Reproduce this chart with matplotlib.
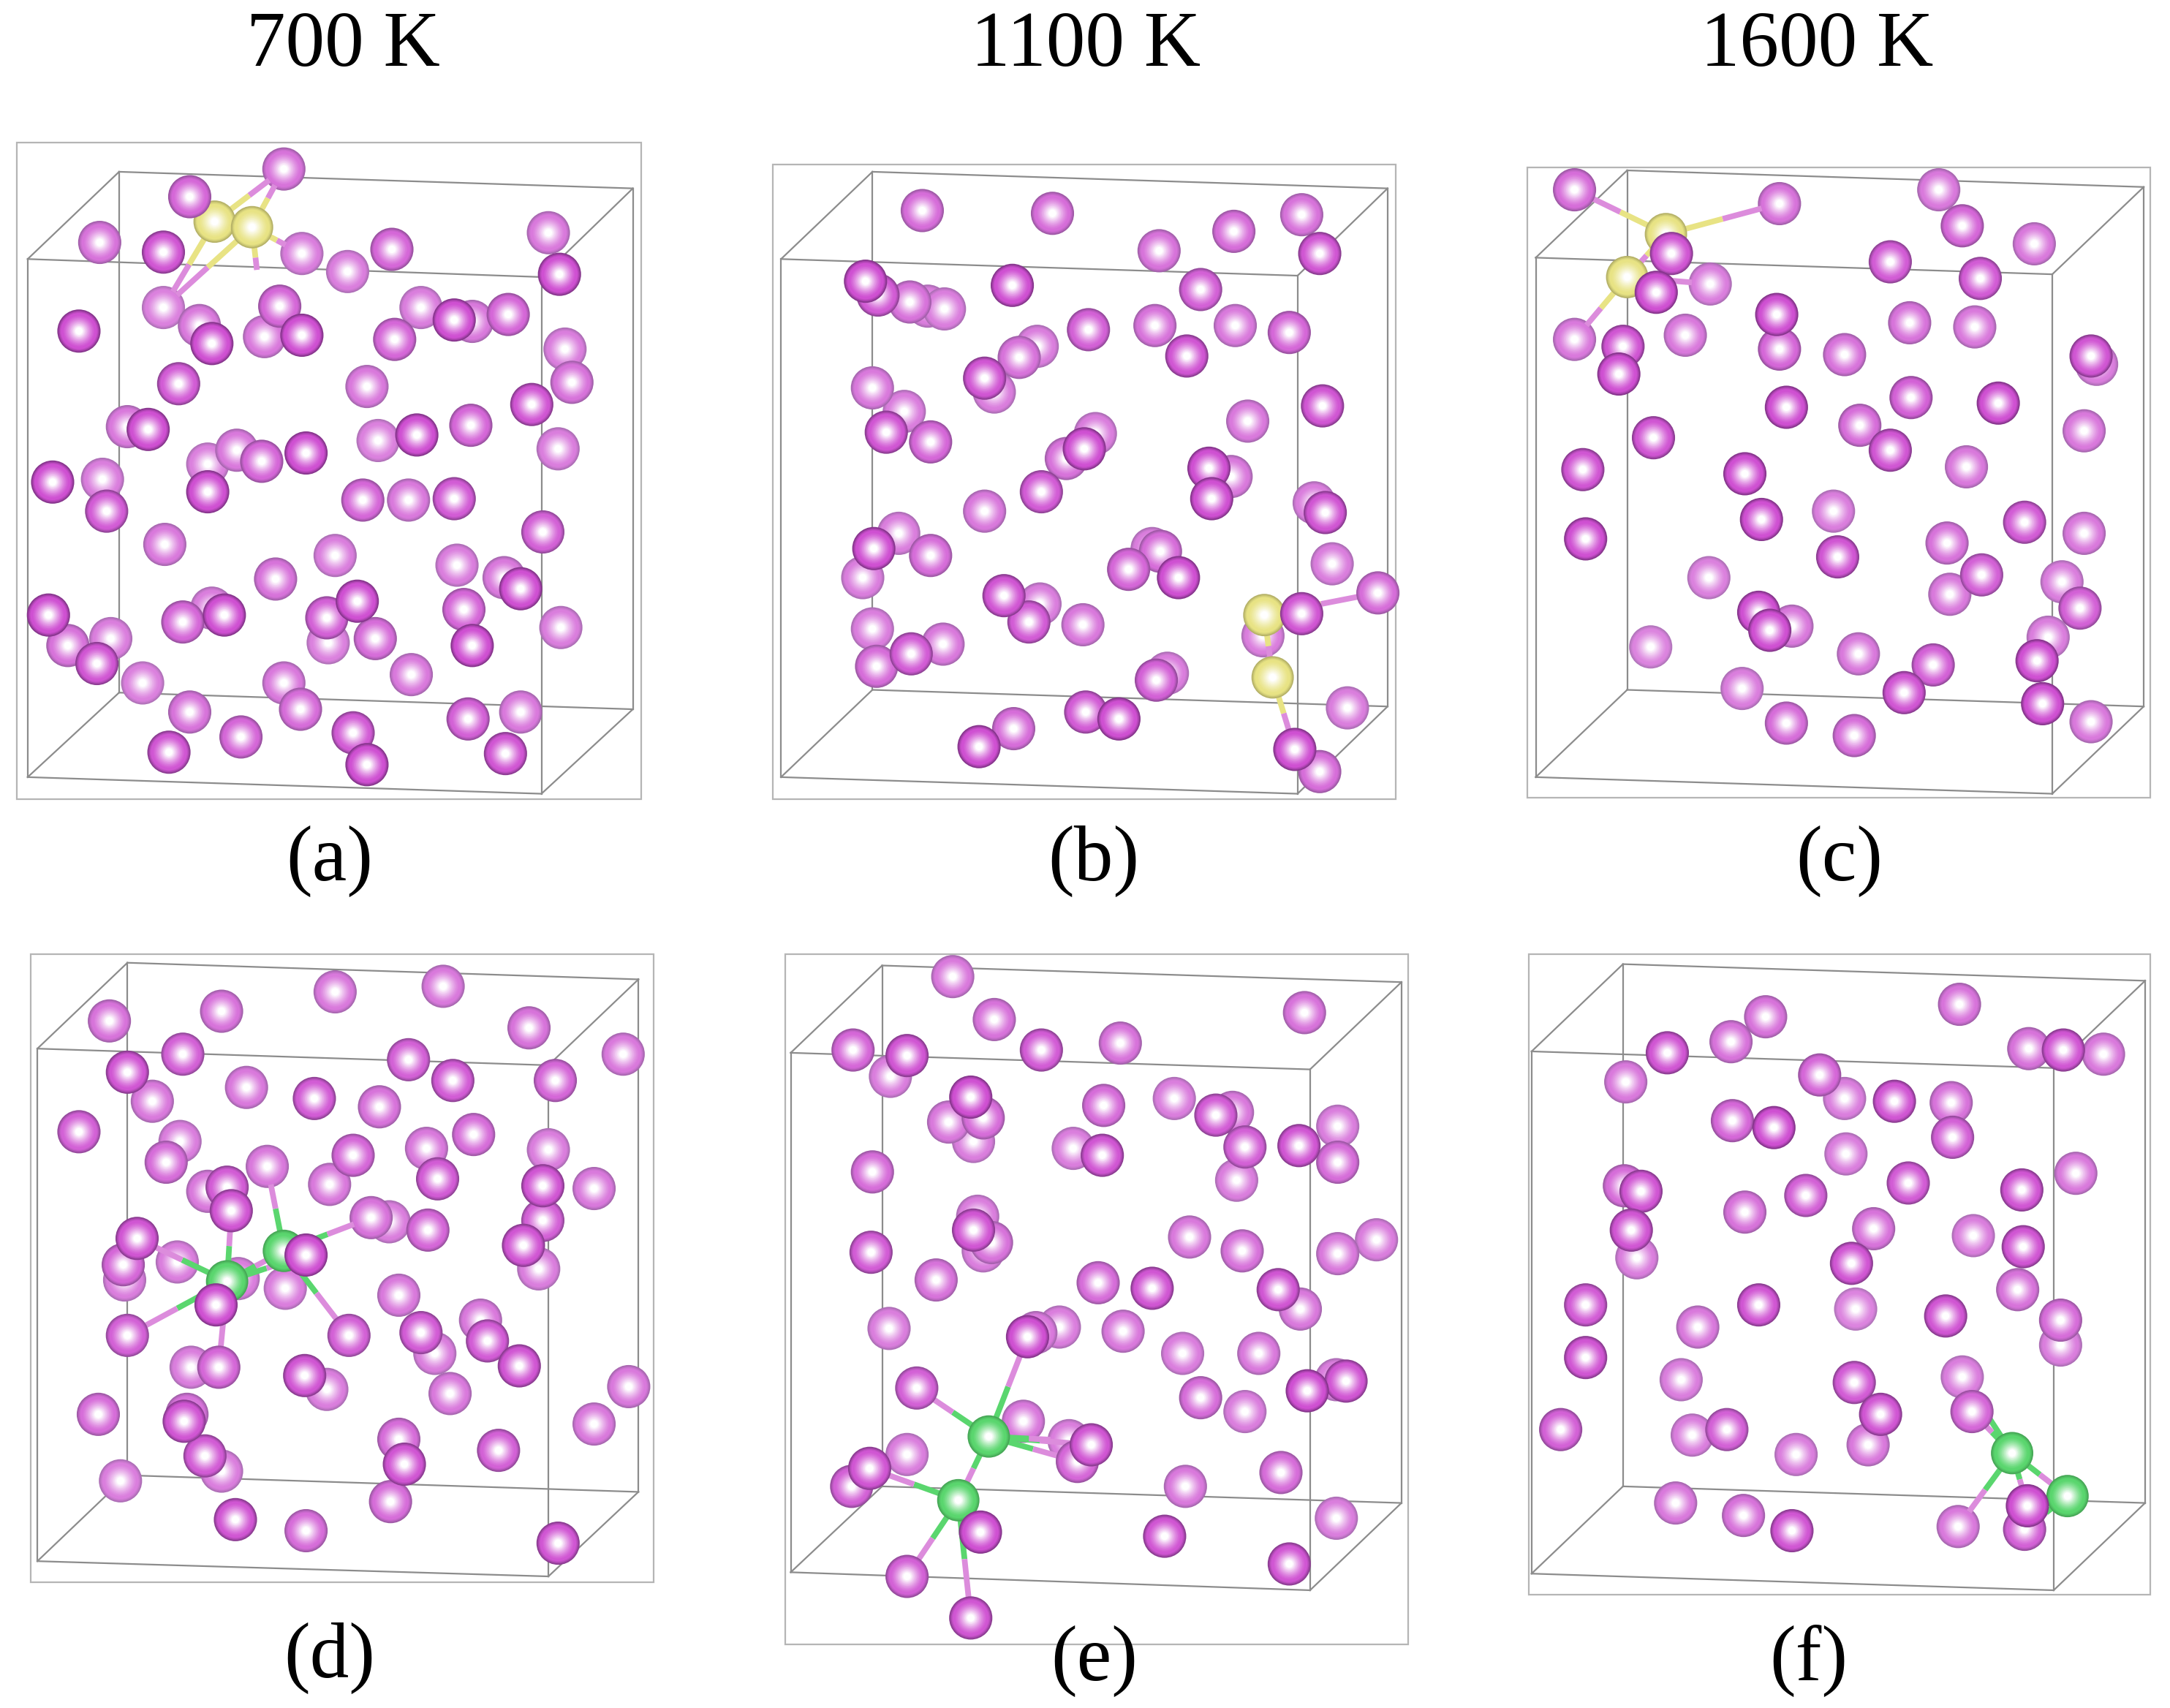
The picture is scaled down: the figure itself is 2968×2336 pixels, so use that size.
import numpy as np
import matplotlib
matplotlib.use("Agg")
import matplotlib.pyplot as plt
from matplotlib.patches import Rectangle

temperatures = ["700 K", "1100 K", "1600 K"]
panel_labels = ["(a)", "(b)", "(c)", "(d)", "(e)", "(f)"]

# atoms: (x, y, depth) depth 0 = far/light, 1 = near/dark
atoms_a = [(205,122,.4),(137,142,.6),(72,175,.4),(118,182,.9),(218,183,.2),(251,196,.2),(283,180,.6),(396,168,.3),(404,198,1),
(118,222,.15),(144,235,.3),(153,248,1),(202,221,.6),(191,243,.3),(218,242,1),(57,239,1),(304,222,.2),(285,245,.6),(328,231,1),(341,232,.3),(367,227,.6),(408,252,.2),(413,276,.4),(129,277,.8),(265,279,.3),(384,292,.9),
(92,308,.3),(107,310,1),(150,335,.15),(171,325,.3),(189,333,.6),(221,327,1),(273,318,.15),(301,314,1),(340,307,.6),(403,324,.2),(38,348,1),(74,346,.2),(77,369,.8),(150,355,1),(262,361,.6),(295,361,.3),(328,360,.8),
(119,393,.3),(392,384,.7),(242,401,.2),(199,418,.4),(330,408,.2),(364,417,.3),(376,425,1),(35,444,1),(49,466,.4),(80,461,.2),(70,479,.9),(132,449,.6),(153,439,.2),(162,444,1),(236,446,.7),(258,434,1),(237,464,.15),(271,461,.5),(335,440,.6),(341,466,1),(405,453,.2),(297,487,.3),
(103,493,.15),(137,514,.4),(205,493,.3),(217,512,.5),(174,532,.6),(122,543,.9),(255,529,.8),(265,552,1),(338,519,.7),(376,514,.3),(365,544,.9)]
atoms_b = [(666,152,.5),(760,154,.5),(891,167,.5),(940,155,.4),(953,183,.9),(837,181,.4),
(625,203,1),(634,213,.8),(657,218,.4),(670,221,.2),(682,223,.2),(731,206,1),(867,209,.7),(834,235,.4),(892,235,.3),(931,240,.6),(786,238,.7),(857,257,.9),(749,250,.2),(736,258,.4),(711,273,.9),(718,283,.2),
(630,280,.3),(653,297,.2),(640,312,.9),(672,319,.6),(955,293,.9),(901,304,.3),(791,313,.2),(770,331,.4),(783,324,1),(873,338,1),(889,344,.3),(875,360,1),(752,355,.8),(711,369,.3),(949,363,.2),(957,370,.9),
(649,385,.2),(631,396,1),(672,401,.5),(623,417,.2),(832,396,.2),(838,398,.5),(815,411,.6),(851,417,1),(962,407,.2),(725,430,.9),(751,436,.2),(743,449,.8),(782,451,.3),(940,443,.9),(995,428,.5),
(630,454,.2),(681,465,.3),(658,472,.8),(633,481,.5),(912,459,.2),(843,486,.2),(835,491,.7),(973,511,.2),(784,514,.8),(808,519,1),(732,526,.5),(707,539,1),(935,541,1),(953,557,.5)]
atoms_c = [(1137,137,.5),(1285,147,.4),(1400,137,.3),(1417,163,.6),(1469,176,.3),(1365,189,.8),(1430,201,.8),(1207,183,.9),(1196,211,1),(1235,205,.2),
(1283,227,1),(1285,252,.6),(1137,245,.3),(1172,250,.9),(1169,270,1),(1217,242,.3),(1332,256,.4),(1379,233,.4),(1426,236,.3),(1510,257,.9),(1514,263,.2),(1290,294,1),(1343,307,.5),(1380,287,.7),(1443,291,1),(1505,311,.3),(1194,316,.9),(1365,325,.9),(1420,337,.3),(1143,339,.9),(1260,342,1),
(1272,375,1),(1324,369,.2),(1145,389,1),(1327,402,.9),(1406,392,.4),(1462,377,.8),(1505,385,.3),(1234,417,.15),(1431,415,.7),(1408,429,.3),(1489,420,.2),(1502,439,.7),(1270,442,1),(1294,452,.3),(1278,455,1),(1479,460,.2),(1471,477,1),(1192,467,.1),(1342,472,.3),(1396,480,.7),(1258,497,.2),(1375,500,.9),(1475,508,1),(1290,522,.5),(1339,531,.5),(1510,521,.3)]
atoms_d = [(79,737,.4),(160,730,.4),(242,716,.3),(320,712,.3),(382,742,.4),(450,761,.3),(92,774,.9),(132,761,.7),(295,765,.7),(327,780,.8),(401,780,.6),(110,795,.3),(178,785,.3),(227,793,.8),(274,799,.4),(57,817,.7),(342,819,.5),(308,829,.3),(120,839,.5),(130,824,.2),(255,834,.6),(396,830,.2),(392,856,.9),(429,858,.3),(316,851,.8),(238,855,.3),(193,842,.3),(150,860,.3),(164,857,.8),(167,874,.9),(392,881,.7),(268,879,.4),(281,882,.2),(309,888,.6),(378,899,.9),(389,916,.2),(99,894,.9),(89,913,.6),(90,924,.2),(128,911,.2),(221,906,1),(206,930,.2),(172,923,.2),(156,942,1),(288,935,.3),(92,964,.7),(252,964,.7),(347,953,.3),(304,962,.8),(314,977,.2),(352,968,.8),(375,986,.9),(138,987,.2),(158,987,.6),(220,993,.9),(236,1003,.2),(325,1006,.3),(454,1001,.3),(429,1028,.3),(71,1021,.5),(135,1021,.4),(133,1026,.9),(288,1039,.5),(360,1047,.7),(292,1057,.9),(148,1051,.8),(160,1062,.2),(87,1069,.2),(282,1084,.5),(170,1097,.9),(221,1105,.5),(403,1114,.9)]
atoms_e = [(688,705,.3),(718,736,.4),(942,731,.4),(616,758,.6),(655,762,.9),(752,758,.8),(809,753,.4),(643,777,.2),(701,792,1),(710,807,.5),(685,810,.3),(703,824,.2),(797,798,.5),(848,793,.2),(878,805,.8),(890,803,.3),(899,828,.7),(938,827,.9),(966,813,.2),(966,839,.5),(775,829,.2),(796,834,.9),(893,852,.2),(630,846,.5),(706,878,.2),(703,888,.9),(716,897,.4),(710,903,.2),(859,893,.3),(897,903,.4),(994,895,.2),(966,905,.3),(629,904,.8),(676,924,.4),(793,926,.5),(832,930,.9),(923,931,.9),(939,945,.3),(642,959,.2),(765,958,.2),(748,962,.3),(742,965,1),(811,961,.3),(854,977,.2),(909,977,.3),(944,1004,1),(965,996,.2),(972,997,.9),(662,1002,.7),(867,1009,.5),(899,1019,.2),(739,1026,.3),(772,1040,.2),(778,1055,.6),(788,1043,.9),(655,1050,.2),(628,1060,.9),(615,1073,.7),(925,1063,.5),(856,1073,.3),(965,1096,.2),(708,1106,1),(841,1109,.9),(655,1138,.7),(931,1129,.9),(701,1168,.9)]
atoms_f = [(1415,725,.4),(1275,734,.4),(1250,752,.4),(1204,760,.9),(1465,757,.4),(1490,758,.9),(1519,761,.3),(1174,781,.3),(1314,776,.6),(1332,793,.2),(1368,795,.9),(1409,796,.4),(1251,809,.6),(1281,814,1),(1410,821,.7),(1333,833,.2),(1499,847,.3),(1173,856,.5),(1185,860,.9),(1304,863,.7),(1378,854,.8),(1460,859,.9),(1260,875,.4),(1353,887,.4),(1425,892,.2),(1178,888,.9),(1182,908,.2),(1461,900,.9),(1337,912,.9),(1457,931,.4),(1145,942,.8),(1270,942,.9),(1340,945,.1),(1405,950,.9),(1488,953,.5),(1226,958,.3),(1488,971,.2),(1145,980,.9),(1214,996,.2),(1339,998,.8),(1417,994,.2),(1358,1021,.9),(1424,1019,.6),(1222,1036,.2),(1247,1032,.7),(1127,1032,.7),(1349,1043,.3),(1297,1050,.2),(1210,1085,.3),(1259,1094,.4),(1294,1105,.9),(1464,1087,1),(1462,1104,.7),(1414,1102,.3)]
all_atoms = [atoms_a, atoms_b, atoms_c, atoms_d, atoms_e, atoms_f]

# impurity atoms
dimer_a = [(155,160,.55),(182,164,.55)]
dimer_b = [(913,444,.75),(919,489,.75)]
dimer_c = [(1203,169,.7),(1175,200,.75)]
dimer_d = [(164,925,.75),(205,903,.75)]
dimer_e = [(714,1037,.75),(692,1083,.75)]
dimer_f = [(1453,1049,.8),(1493,1080,.8)]
all_dimers = [dimer_a, dimer_b, dimer_c, dimer_d, dimer_e, dimer_f]

# bonds: impurity index -> neighbour position
bonds_a = [(0,137,142),(1,205,122),(0,205,122),(0,118,222),(1,118,222),(1,218,183),(1,187,208)]
bonds_b = [(0,919,489),(1,935,541),(0,912,459),(0,995,428)]
bonds_c = [(0,1137,137),(0,1285,147),(1,1137,245),(0,1175,200),(1,1235,205),(0,1207,183)]
bonds_d = [(0,99,894),(0,167,874),(0,92,964),(0,158,987),(0,205,903),(1,193,842),(1,268,879),(1,252,964),(0,221,906)]
bonds_e = [(0,742,965),(0,662,1002),(0,788,1043),(0,778,1055),(0,692,1083),(1,628,1060),(1,708,1106),(1,655,1138),(1,701,1168),(0,772,1040)]
bonds_f = [(0,1417,994),(0,1424,1019),(0,1493,1080),(0,1464,1087),(1,1462,1104),(0,1414,1102),(1,1464,1087)]
all_bonds = [bonds_a, bonds_b, bonds_c, bonds_d, bonds_e, bonds_f]

# frames (left, top, right, bottom) and boxes: front TL,TR,BR,BL / back TL,TR,BR,BL
frames = [(12,103,463,577),(558,119,1008,577),(1103,121,1553,576),(22,689,472,1142),(567,689,1017,1187),(1104,689,1553,1151)]
boxes = [
 [(20,187),(391,200),(391,573),(20,561),(86,124),(457,136),(457,512),(86,500)],
 [(564,187),(937,199),(937,573),(564,561),(630,124),(1002,136),(1002,510),(630,498)],
 [(1109,186),(1482,198),(1482,573),(1109,561),(1175,123),(1548,135),(1548,510),(1175,498)],
 [(27,757),(396,769),(396,1138),(27,1127),(92,695),(461,707),(461,1077),(92,1065)],
 [(571,760),(946,772),(946,1148),(571,1135),(637,697),(1012,709),(1012,1085),(637,1073)],
 [(1106,759),(1483,771),(1483,1148),(1106,1136),(1172,696),(1549,708),(1549,1085),(1172,1073)],
]
title_pos = [(248,34),(784,34),(1312,34)]
label_pos = [(238,622),(790,622),(1328,622),(238,1197),(790,1199),(1306,1199)]
impurity_colors = ["#e8e384","#e8e384","#e8e384","#5ad66e","#5ad66e","#5ad66e"]

W, H = 1567, 1233
ATOM_R = 15.6  # in data units
RAD_PT = ATOM_R * (2968 / W) / 200 * 72

fig = plt.figure(figsize=(14.84, 11.68), dpi=200)
ax = fig.add_axes([0, 0, 1, 1])
ax.set_xlim(0, W)
ax.set_ylim(H, 0)
ax.axis("off")

def rgb(h):
    return np.array(matplotlib.colors.to_rgb(h))

def sphere(x, y, edge, body, z, scale=1.0):
    fr = np.linspace(1, 0.06, 18)
    cols = []
    for r in fr:
        if r > 0.86:
            t = (1 - r) / 0.14
            c = edge * (1 - t) + body * t
        else:
            t = np.clip((0.78 - r) / 0.6, 0, 1) ** 1.3
            c = body * (1 - t) + np.ones(3) * t
        cols.append(c)
    s = (2 * RAD_PT * scale * fr) ** 2
    ax.scatter([x] * len(fr), [y] * len(fr), s=s, c=cols, linewidths=0, zorder=z)

light_edge, light_body = rgb("#b77cc0"), rgb("#dd8ae0")
dark_edge, dark_body = rgb("#86358c"), rgb("#cf50d2")

for i, (frame, box) in enumerate(zip(frames, boxes)):
    l, t, r, b = frame
    ax.add_patch(Rectangle((l, t), r - l, b - t, fill=False, ec="#b5b5b5", lw=0.8, zorder=1))
    box = np.array(box)
    edges = [(0,1),(1,2),(2,3),(3,0),(4,5),(5,6),(6,7),(7,4),(0,4),(1,5),(2,6),(3,7)]
    for p, q in edges:
        ax.plot(box[[p, q], 0], box[[p, q], 1], color="#8c8c8c", lw=0.8, zorder=2)
    # atoms, far ones first
    for x, y, d in sorted(all_atoms[i], key=lambda a: a[2]):
        e = light_edge * (1 - d) + dark_edge * d
        c = light_body * (1 - d) + dark_body * d
        sphere(x, y, e, c, 10 + d)
    icol = rgb(impurity_colors[i])
    dimer = all_dimers[i]
    for k, nx, ny in all_bonds[i]:
        x0, y0, _ = dimer[k]
        length = np.hypot(nx - x0, ny - y0)
        ex = nx - (nx - x0) / length * ATOM_R * 0.85
        ey = ny - (ny - y0) / length * ATOM_R * 0.85
        xm, ym = (x0 + nx) / 2, (y0 + ny) / 2
        ax.plot([x0, xm], [y0, ym], color=icol, lw=2.8, zorder=10.45, solid_capstyle="butt")
        ax.plot([xm, ex], [ym, ey], color="#dc8cdc", lw=2.8, zorder=10.45, solid_capstyle="butt")
    for x, y, d in dimer:
        edge = icol * 0.78
        sphere(x, y, edge, icol, 10 + d, scale=0.98)

for txt, (x, y) in zip(temperatures, title_pos):
    ax.text(x, y, txt, ha="center", va="center", family="Liberation Serif", fontsize=38.5, color="black")
for txt, (x, y) in zip(panel_labels, label_pos):
    ax.text(x, y, txt, ha="center", va="center", family="Liberation Serif", fontsize=38.5, color="black")

fig.savefig("out.png", dpi=200)
